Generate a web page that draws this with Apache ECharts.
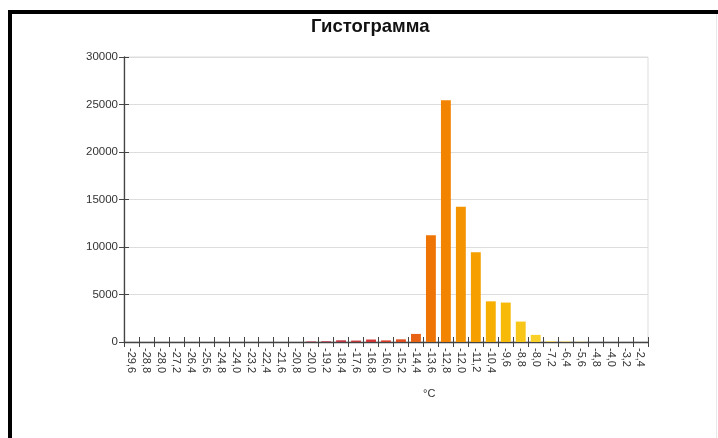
<!DOCTYPE html>
<html><head><meta charset="utf-8">
<script src="https://cdn.jsdelivr.net/npm/echarts@6/dist/echarts.min.js"></script>
<style>html,body{margin:0;padding:0;background:#fff}#c{width:718px;height:438px}</style>
</head><body><div id="c"></div>
<script>
const categories = ["-29,6","-28,8","-28,0","-27,2","-26,4","-25,6","-24,8","-24,0","-23,2","-22,4","-21,6","-20,8","-20,0","-19,2","-18,4","-17,6","-16,8","-16,0","-15,2","-14,4","-13,6","-12,8","-12,0","-11,2","-10,4","-9,6","-8,8","-8,0","-7,2","-6,4","-5,6","-4,8","-4,0","-3,2","-2,4"];
const counts = [0,0,0,0,0,0,0,0,0,0,0,0,60,80,180,150,260,170,280,850,11250,25450,14250,9450,4280,4150,2150,750,90,70,40,0,0,0,0];
const yTicks = [0,5000,10000,15000,20000,25000,30000];
const titleText = "Гистограмма";
const unitText = "°C";

const palette = ["#b03040","#b03040","#b03040","#b03040","#b03040","#b03040","#b03040","#b03040","#b03040","#b03040","#b03040","#b03040",
 "#c04858","#c04050","#c03844","#c83a3c","#d03434","#d8402c","#e04e20","#e86214","#ef7406","#f28400","#f39400","#f5a000","#f6ae00","#f7ba08","#f8c618","#f8d028","#f9dc60","#f9e070","#f9e480","#fae890","#fae890","#fae890","#fae890"];

const chart = echarts.init(document.getElementById('c'), null, {renderer:'canvas'});
const axisFont = {fontFamily:'Arial, "Liberation Sans", sans-serif', fontSize:11.5, color:'#333'};
chart.setOption({
  animation:false,
  backgroundColor:'#fff',
  title:[
    {text:titleText, left:306, top:12, textStyle:{fontFamily:'Arial, "Liberation Sans", sans-serif', fontSize:18.5, fontWeight:'bold', color:'#111'}},
    {text:unitText, left:418, top:383, textStyle:{fontFamily:'Arial, "Liberation Sans", sans-serif', fontSize:11, fontWeight:'normal', color:'#333'}}
  ],
  graphic:[
    {type:'rect', shape:{x:8,y:10,width:4,height:428}, style:{fill:'#000'}},
    {type:'rect', shape:{x:8,y:10,width:710,height:4}, style:{fill:'#000'}},
    {type:'rect', shape:{x:716,y:14,width:1,height:424}, style:{fill:'#e8e8e8'}}
  ],
  grid:{left:124,right:70,top:57,bottom:96,show:true,borderColor:'#ddd',borderWidth:1},
  xAxis:[
    {type:'category', data:categories, boundaryGap:true,
     axisLine:{lineStyle:{color:'#444',width:1.3}},
     axisTick:{show:true, interval:0, length:5, lineStyle:{color:'#444'}},
     axisLabel:Object.assign({rotate:-90, margin:6, interval:0}, axisFont, {fontSize:11}),
     splitLine:{show:false}},
    {type:'category', data:categories, boundaryGap:true, position:'bottom',
     axisLine:{show:false},
     axisTick:{show:true, interval:0, inside:true, length:5, lineStyle:{color:'#444'}},
     axisLabel:{show:false}, splitLine:{show:false}}
  ],
  yAxis:[
    {type:'value', min:yTicks[0], max:yTicks[yTicks.length-1], interval:yTicks[1]-yTicks[0],
     axisLine:{show:true, lineStyle:{color:'#444',width:1.3}},
     axisTick:{show:true, length:5, lineStyle:{color:'#444'}},
     axisLabel:Object.assign({margin:6, formatter:(v)=>String(v)}, axisFont),
     splitLine:{show:true, lineStyle:{color:'#ddd'}}},
    {type:'value', min:yTicks[0], max:yTicks[yTicks.length-1], interval:yTicks[1]-yTicks[0], position:'left',
     axisLine:{show:false}, axisTick:{show:true, inside:true, length:5, lineStyle:{color:'#444'}},
     axisLabel:{show:false}, splitLine:{show:false}}
  ],
  series:[{
    type:'bar', xAxisIndex:0, yAxisIndex:0, barWidth:'66%',
    data:counts.map((v,i)=>({value:v, itemStyle:{color:palette[i]}}))
  }]
});
</script></body></html>
